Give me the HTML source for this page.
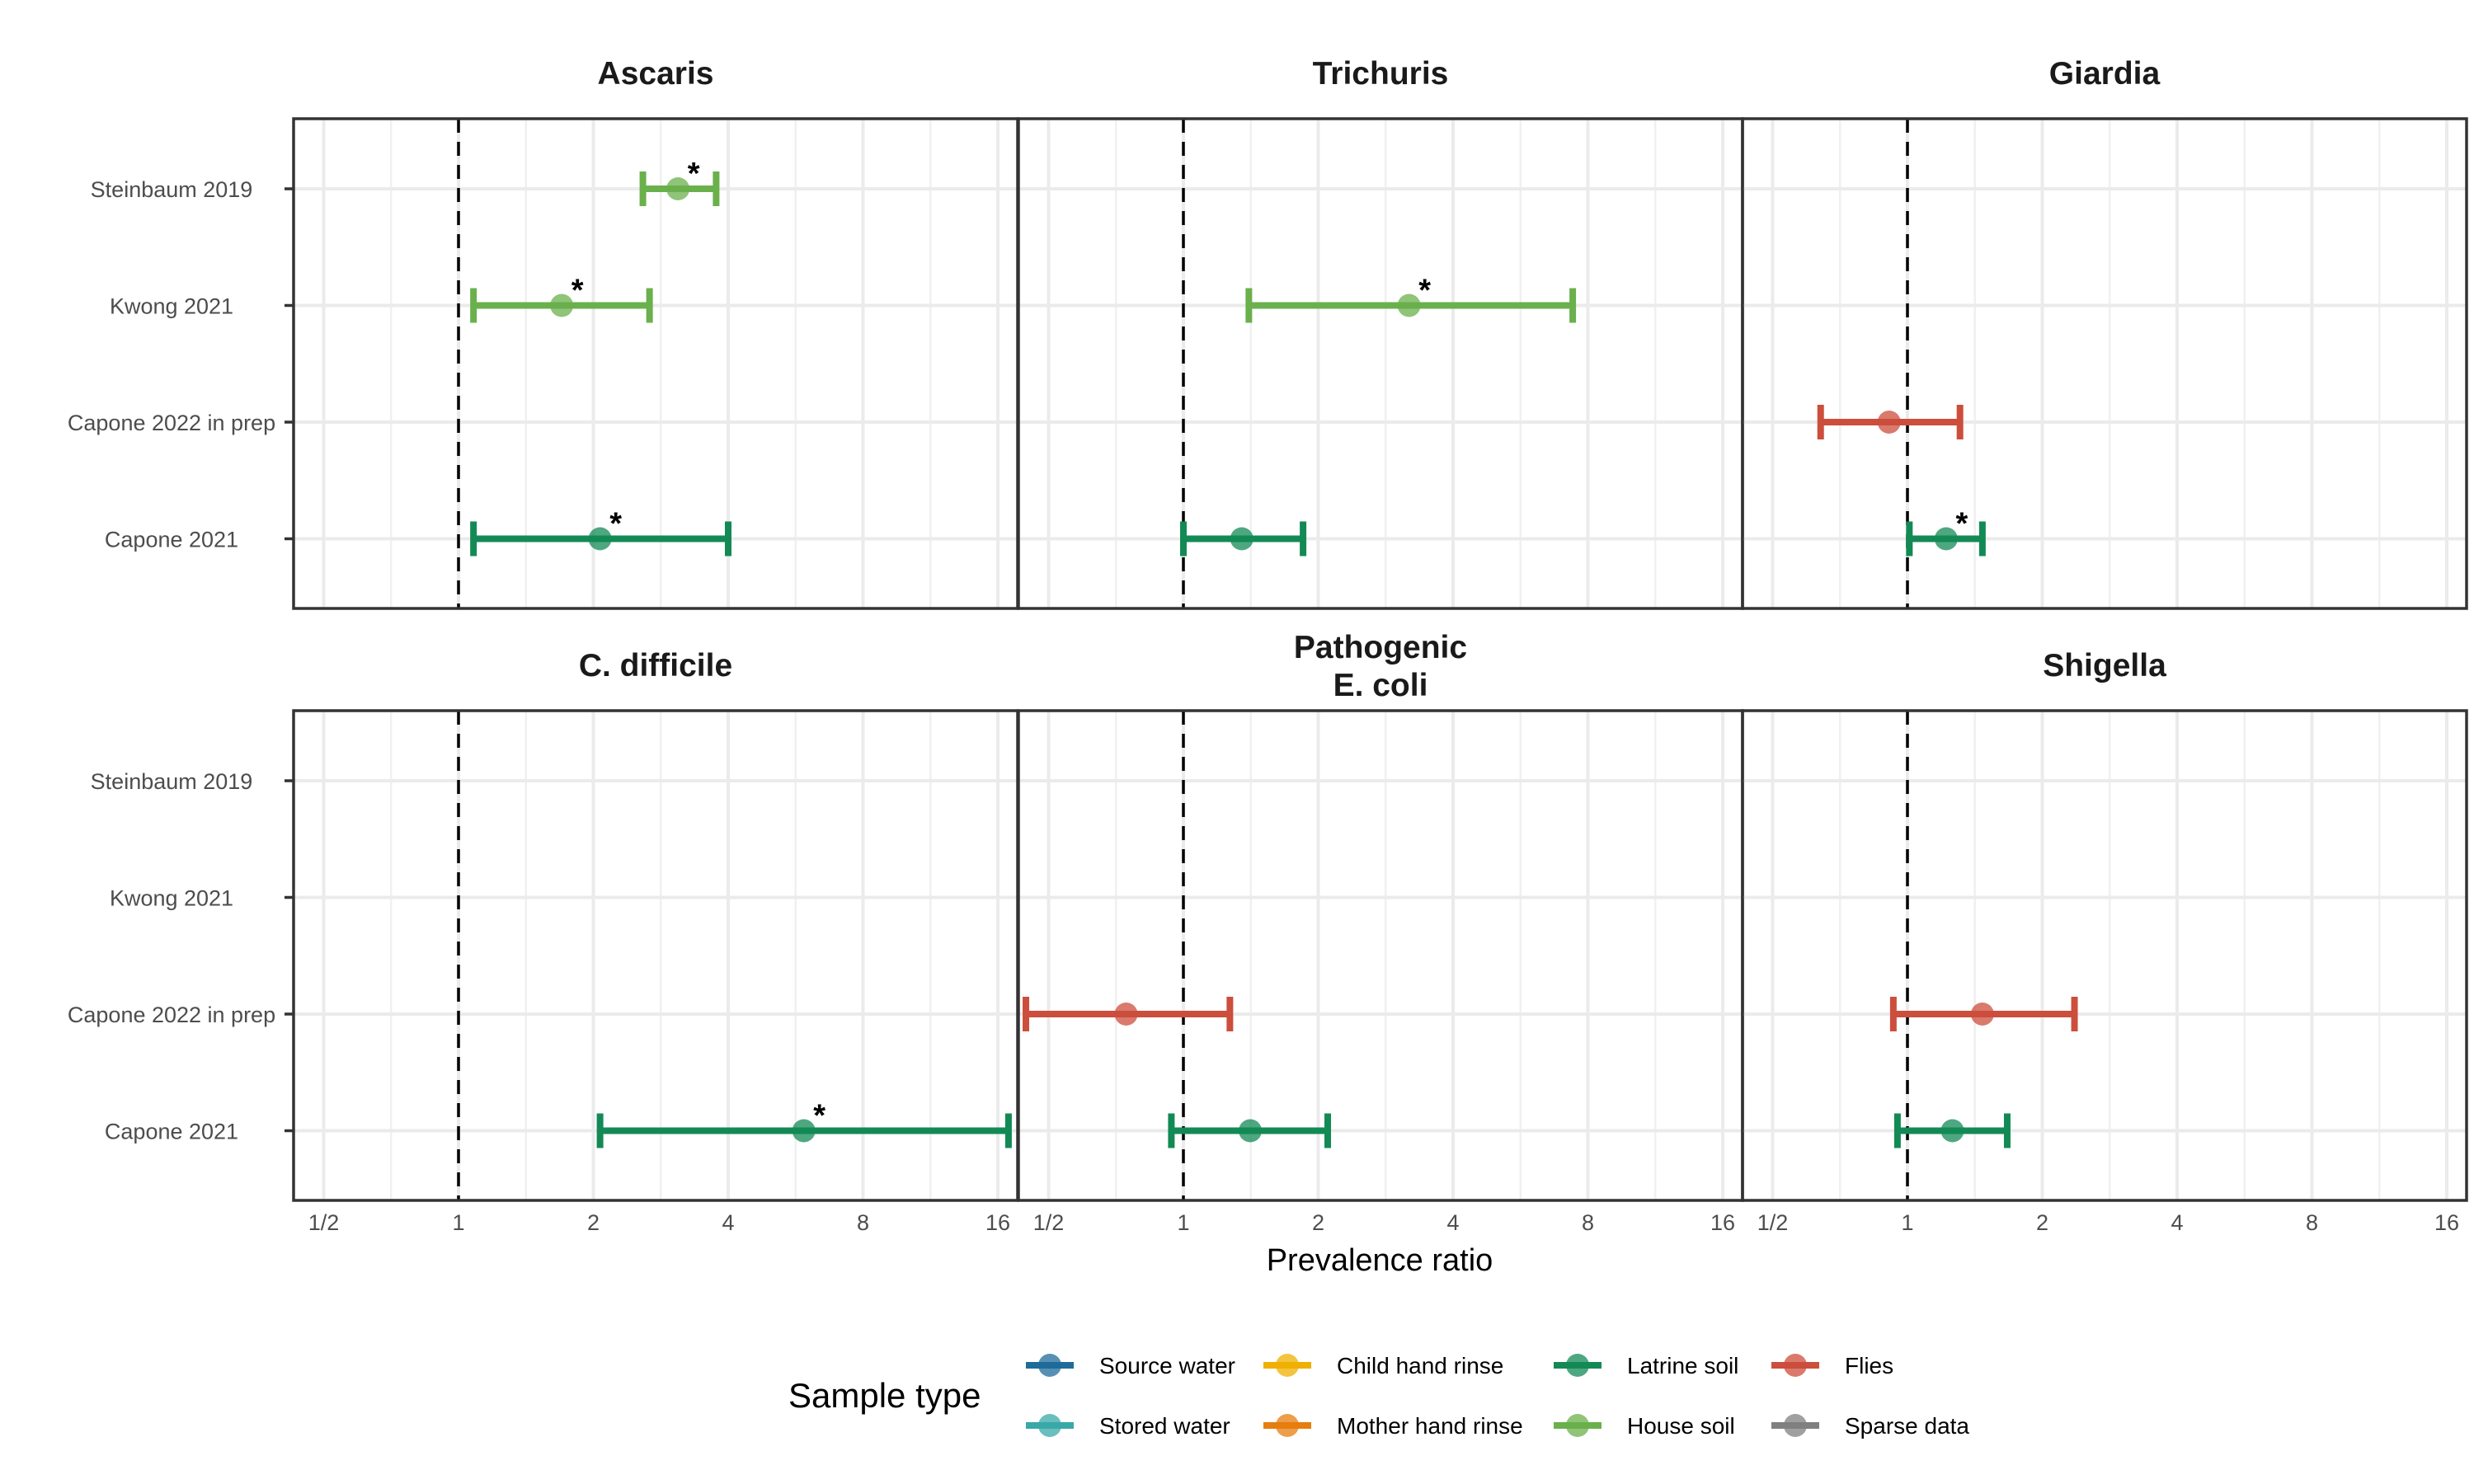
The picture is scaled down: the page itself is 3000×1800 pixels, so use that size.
<!DOCTYPE html>
<html><head><meta charset="utf-8"><style>
html,body{margin:0;padding:0;background:#fff;}
svg{display:block;font-family:"Liberation Sans",sans-serif;}
</style></head><body>
<svg id="chart" width="3000" height="1800" viewBox="0 0 3000 1800"></svg>
<script>
const studies = ["Steinbaum 2019","Kwong 2021","Capone 2022 in prep","Capone 2021"];
const panelTitles = [["Ascaris"],["Trichuris"],["Giardia"],["C. difficile"],["Pathogenic","E. coli"],["Shigella"]];
const xTickVals = [0.5,1,2,4,8,16];
const xTickLabels = ["1/2","1","2","4","8","16"];
// estimates: [panel, studyIndex, point, lo, hi, sampleType, significant]
const estPanel = [0,0,0,1,1,2,2,3,4,4,5,5];
const estStudy = [0,1,3,1,3,2,3,3,2,3,2,3];
const estPoint = [3.09,1.70,2.07,3.19,1.35,0.91,1.22,5.9,0.745,1.41,1.47,1.26];
const estLo = [2.58,1.08,1.08,1.40,1.0,0.64,1.01,2.07,0.445,0.94,0.93,0.95];
const estHi = [3.76,2.67,4.0,7.4,1.85,1.31,1.47,16.9,1.27,2.1,2.36,1.67];
const estType = ["House soil","House soil","Latrine soil","House soil","Latrine soil","Flies","Latrine soil","Latrine soil","Flies","Latrine soil","Flies","Latrine soil"];
const estSig = [1,1,1,1,0,0,1,1,0,0,0,0];
const legendNames = ["Source water","Stored water","Child hand rinse","Mother hand rinse","Latrine soil","House soil","Flies","Sparse data"];
const legendColors = ["#1f6b9a","#3aa8a8","#f0b000","#e57e0f","#138a55","#6ab04c","#cc4e3c","#808080"];

const NS="http://www.w3.org/2000/svg";
const svg=document.getElementById('chart');
function mk(tag,attrs,parent){const e=document.createElementNS(NS,tag);for(const k in attrs)e.setAttribute(k,attrs[k]);(parent||svg).appendChild(e);return e;}
const colorOf=t=>legendColors[legendNames.indexOf(t)];

const panelX0=[356,1235,2113], panelW=878;
const panelY0=[144,862], panelH=594;
const oneOff=200, perDbl=163.5;
function xs(p,v){return panelX0[p%3]+oneOff+Math.log2(v)*perDbl;}
function ys(p,s){return panelY0[Math.floor(p/3)]+85+s*141.5;}

for(let p=0;p<6;p++){
  const x0=panelX0[p%3], y0=panelY0[Math.floor(p/3)];
  const g=mk('g',{});
  
  
  // minor grid
  for(let i=0;i<xTickVals.length-1;i++){
    const xm=xs(p,xTickVals[i]*Math.SQRT2);
    const l=mk('line',{x1:xm,x2:xm,y1:y0,y2:y0+panelH,stroke:'#f0f0f0','stroke-width':2.5},g);
    
  }
  // major grid
  xTickVals.forEach(v=>{const xv=xs(p,v);
    const l=mk('line',{x1:xv,x2:xv,y1:y0,y2:y0+panelH,stroke:'#ebebeb','stroke-width':4},g);
    });
  studies.forEach((s,i)=>{const yv=ys(p,i);
    const l=mk('line',{x1:x0,x2:x0+panelW,y1:yv,y2:yv,stroke:'#ebebeb','stroke-width':4},g);
    });
  // reference line
  const rl=mk('line',{x1:xs(p,1),x2:xs(p,1),y1:y0,y2:y0+panelH,stroke:'#000','stroke-width':3.5,'stroke-dasharray':'17,11'},g);
  
  // border
  const b=mk('rect',{x:x0,y:y0,width:panelW,height:panelH,fill:'none',stroke:'#333','stroke-width':3.5},g);
  
  // title
  const tl=panelTitles[p];
  const t=mk('text',{x:x0+panelW/2,y:tl.length>1?y0-64:y0-42,'text-anchor':'middle','font-size':39,'font-weight':'bold',fill:'#1a1a1a'},g);
  
  tl.forEach((ln,k)=>{const ts=mk('tspan',{x:x0+panelW/2,dy:k?46:0},t);ts.textContent=ln;});
  // y labels
  if(p%3===0){
    studies.forEach((s,i)=>{const yv=ys(p,i);
      const tk=mk('line',{x1:x0-11,x2:x0,y1:yv,y2:yv,stroke:'#333','stroke-width':3.5},g);
      
      const tx=mk('text',{x:208,y:yv+10,'text-anchor':'middle','font-size':27,fill:'#4d4d4d'},g);
      tx.textContent=s;
      });
  }
  if(p>=3){
    xTickVals.forEach((v,i)=>{
      const tx=mk('text',{x:xs(p,v),y:y0+panelH+36,'text-anchor':'middle','font-size':27,fill:'#4d4d4d'},g);
      tx.textContent=xTickLabels[i];
      });
  }
}
// estimates
for(let i=0;i<estPoint.length;i++){
  const p=estPanel[i], yv=ys(p,estStudy[i]), c=colorOf(estType[i]);
  const xl=xs(p,estLo[i]), xh=xs(p,estHi[i]), xp=xs(p,estPoint[i]);
  const g=mk('g',{});
  
  
  mk('line',{x1:xl,x2:xh,y1:yv,y2:yv,stroke:c,'stroke-width':8},g);
  mk('line',{x1:xl,x2:xl,y1:yv-21,y2:yv+21,stroke:c,'stroke-width':8},g);
  mk('line',{x1:xh,x2:xh,y1:yv-21,y2:yv+21,stroke:c,'stroke-width':8},g);
  mk('circle',{cx:xp,cy:yv,r:14,fill:c,'fill-opacity':0.75},g);
  if(estSig[i]){const a=mk('text',{x:xp+19,y:yv-6,'text-anchor':'middle','font-size':38,'font-weight':'bold',fill:'#000'},g);a.textContent='*';
    }
}
// x axis title
const xt=mk('text',{x:1673,y:1541,'text-anchor':'middle','font-size':38,fill:'#000'});
xt.textContent='Prevalence ratio';

// legend
const lg=mk('g',{});

const lt=mk('text',{x:956,y:1707,'font-size':42,fill:'#000'},lg);lt.textContent='Sample type';

const colX=[1273,1561,1913,2177], rowY=[1656,1729];
legendNames.forEach((n,i)=>{
  const cx=colX[Math.floor(i/2)], cy=rowY[i%2];
  const e=mk('g',{},lg);
  
  mk('line',{x1:cx-29,x2:cx+29,y1:cy,y2:cy,stroke:legendColors[i],'stroke-width':8},e);
  mk('circle',{cx:cx,cy:cy,r:14,fill:legendColors[i],'fill-opacity':0.75},e);
  const t=mk('text',{x:cx+60,y:cy+10,'font-size':28,fill:'#000'},e);t.textContent=n;
});
</script>
</body></html>
